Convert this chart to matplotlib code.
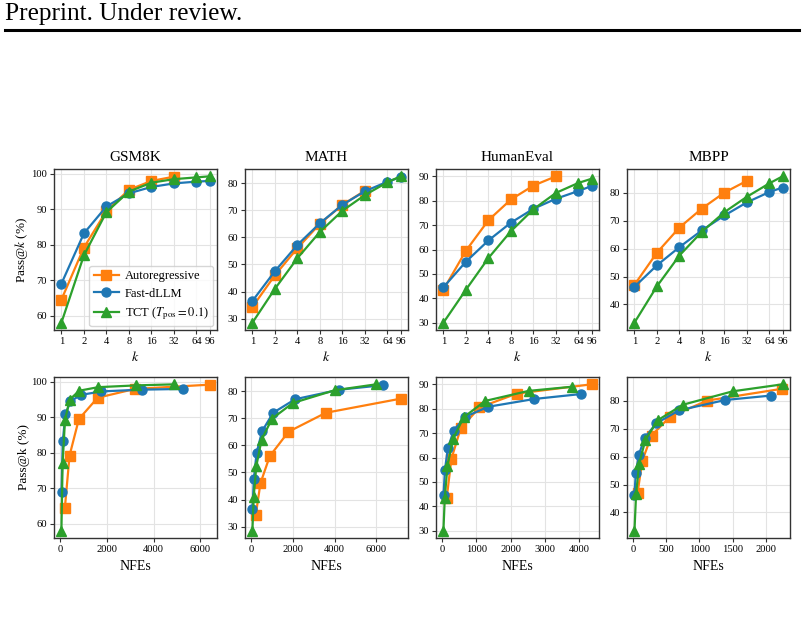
import matplotlib
matplotlib.use("Agg")
import matplotlib.pyplot as plt
from matplotlib.ticker import NullLocator

plt.rcParams['font.family'] = ['Liberation Serif', 'DejaVu Serif']
plt.rcParams['mathtext.fontset'] = 'stix'

datasets = ["GSM8K", "MATH", "HumanEval", "MBPP"]
k_ar = [1, 2, 4, 8, 16, 32]
k_all = [1, 2, 4, 8, 16, 32, 64, 96]
k_ticklabels = ["1", "2", "4", "8", "16", "32", "64", "96"]

# Pass@k values
ar_pass = {
    "GSM8K": [64.5, 79.2, 89.5, 95.5, 98.0, 99.2],
    "MATH": [34.3, 46.0, 56.0, 65.0, 72.0, 77.2],
    "HumanEval": [43.5, 59.5, 72.0, 80.5, 86.2, 90.0],
    "MBPP": [47.0, 58.5, 67.5, 74.3, 80.0, 84.2],
}
fast_pass = {
    "GSM8K": [69.0, 83.2, 90.8, 94.5, 96.3, 97.3, 97.8, 98.0],
    "MATH": [36.5, 47.5, 57.2, 65.2, 72.0, 77.0, 80.5, 82.2],
    "HumanEval": [44.5, 55.0, 63.7, 71.0, 76.7, 80.8, 84.0, 86.0],
    "MBPP": [46.3, 54.0, 60.5, 66.5, 71.8, 76.5, 80.2, 81.8],
}
tct_pass = {
    "GSM8K": [58.0, 77.0, 89.2, 95.0, 97.5, 98.5, 99.0, 99.3],
    "MATH": [28.5, 41.0, 52.3, 62.0, 69.8, 75.6, 80.3, 82.5],
    "HumanEval": [30.0, 43.5, 56.5, 67.5, 76.5, 83.2, 87.3, 89.0],
    "MBPP": [33.5, 46.5, 57.5, 66.0, 73.0, 78.5, 83.3, 85.8],
}

# NFEs
ar_nfe = {
    "GSM8K": [200, 400, 800, 1600, 3200, 6400],
    "MATH": [224, 448, 896, 1792, 3584, 7168],
    "HumanEval": [136, 272, 544, 1088, 2176, 4352],
    "MBPP": [70, 140, 280, 560, 1120, 2240],
}
fast_nfe = {
    "GSM8K": [55, 110, 220, 440, 880, 1760, 3520, 5280],
    "MATH": [66, 132, 264, 528, 1056, 2112, 4224, 6336],
    "HumanEval": [42, 84, 168, 336, 672, 1344, 2688, 4032],
    "MBPP": [22, 43, 87, 174, 347, 694, 1389, 2083],
}
tct_nfe = {
    "GSM8K": [51, 102, 204, 408, 816, 1632, 3264, 4896],
    "MATH": [63, 125, 250, 500, 1000, 2000, 4000, 6000],
    "HumanEval": [39, 79, 157, 315, 629, 1258, 2517, 3775],
    "MBPP": [23, 47, 94, 188, 375, 750, 1500, 2250],
}

labels = ["Autoregressive", "Fast-dLLM", r"TCT ($T_{\mathrm{pos}}=0.1$)"]
colors = ["#ff7f0e", "#1f77b4", "#2ca02c"]
markers = ["s", "o", "^"]
msizes = [6.5, 6.5, 7]

W, H = 804, 632
fig = plt.figure(figsize=(W / 100, H / 100), dpi=100)

# header
fig.text(5 / W, 1 - 14 / H, "Preprint. Under review.", fontsize=18.2, va="center", ha="left")
fig.add_artist(plt.Line2D([5 / W, 799 / W], [1 - 29.5 / H, 1 - 29.5 / H], color="black", lw=2.2,
                          transform=fig.transFigure))

lefts = [54, 245, 436, 627]
aw = 163
ah = 161
tops = [169, 377]


def style(ax):
    ax.grid(True, color="#e3e3e3", linewidth=0.8)
    ax.set_axisbelow(True)
    for s in ax.spines.values():
        s.set_color("#333333")
        s.set_linewidth(1.0)
    ax.tick_params(labelsize=7.6, length=3, width=0.8, color="#333333", pad=2)


for i, d in enumerate(datasets):
    # top row
    ax = fig.add_axes([lefts[i] / W, 1 - (tops[0] + ah) / H, aw / W, ah / H])
    xs = [k_ar, k_all, k_all]
    ys = [ar_pass[d], fast_pass[d], tct_pass[d]]
    for j in range(3):
        ax.plot(xs[j], ys[j], color=colors[j], marker=markers[j], markersize=msizes[j],
                linewidth=1.6, label=labels[j])
    ax.set_xscale("log", base=2)
    ax.set_xticks(k_all)
    ax.set_xticklabels(k_ticklabels)
    ax.xaxis.set_minor_locator(NullLocator())
    style(ax)
    ax.set_title(d, fontsize=11, pad=6)
    ax.set_xlabel(r"$k$", fontsize=10, labelpad=3)
    if i == 0:
        ax.set_ylabel(r"Pass@$k$ (%)", fontsize=9.5, labelpad=1)
        ax.legend(loc="lower right", fontsize=9, frameon=True, edgecolor="#cccccc",
                  fancybox=True, borderpad=0.35, labelspacing=0.45, handlelength=2.0,
                  handletextpad=0.5, borderaxespad=0.3)

    # bottom row
    ax = fig.add_axes([lefts[i] / W, 1 - (tops[1] + ah) / H, aw / W, ah / H])
    xs = [ar_nfe[d], fast_nfe[d], tct_nfe[d]]
    for j in range(3):
        ax.plot(xs[j], ys[j], color=colors[j], marker=markers[j], markersize=msizes[j],
                linewidth=1.6, label=labels[j])
    style(ax)
    ax.set_xlabel("NFEs", fontsize=10, labelpad=4)
    if i == 0:
        ax.set_ylabel("Pass@k (%)", fontsize=9.5, labelpad=1)

fig.savefig("out.png", dpi=100)
